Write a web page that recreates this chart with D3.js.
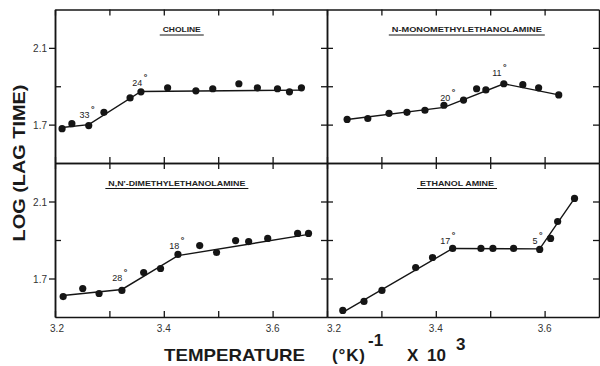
<!DOCTYPE html>
<html><head><meta charset="utf-8">
<script src="https://cdn.jsdelivr.net/npm/d3@7"></script>
<style>
html,body{margin:0;padding:0;background:#fff;}
svg{display:block;}
</style></head>
<body>
<svg id="chart" width="600" height="366"></svg>
<script>
// ---------- data ----------
const xTicks = [3.2, 3.3, 3.4, 3.5, 3.6];
const xTickLabels = [3.2, 3.4, 3.6];
const yTicks = [1.7, 1.9, 2.1];
const yTickLabels = [2.1, 1.7];

const panelTitles = ["CHOLINE", "N-MONOMETHYLETHANOLAMINE", "N,N'-DIMETHYLETHANOLAMINE", "ETHANOL AMINE"];

const cholineX = [3.213, 3.231, 3.262, 3.290, 3.338, 3.358, 3.407, 3.459, 3.490, 3.538, 3.572, 3.609, 3.631, 3.653];
const cholineY = [1.679, 1.705, 1.695, 1.764, 1.839, 1.871, 1.892, 1.876, 1.887, 1.913, 1.892, 1.887, 1.871, 1.892];
const cholineFitX = [3.213, 3.262, 3.358, 3.655];
const cholineFitY = [1.685, 1.700, 1.873, 1.880];
const cholineLabels = ["33", "24"];
const cholineLabelX = [3.259, 3.356];
const cholineLabelY = [1.752, 1.920];

const monoX = [3.237, 3.275, 3.314, 3.347, 3.380, 3.415, 3.451, 3.475, 3.492, 3.525, 3.560, 3.589, 3.626];
const monoY = [1.727, 1.732, 1.759, 1.764, 1.775, 1.801, 1.828, 1.887, 1.881, 1.913, 1.908, 1.892, 1.855];
const monoFitX = [3.237, 3.415, 3.525, 3.626];
const monoFitY = [1.727, 1.790, 1.913, 1.855];
const monoLabels = ["20", "11"];
const monoLabelX = [3.422, 3.517];
const monoLabelY = [1.839, 1.972];

const dimX = [3.215, 3.251, 3.281, 3.323, 3.363, 3.394, 3.426, 3.466, 3.497, 3.532, 3.556, 3.591, 3.646, 3.666];
const dimY = [1.606, 1.648, 1.622, 1.638, 1.731, 1.752, 1.825, 1.871, 1.835, 1.897, 1.892, 1.908, 1.934, 1.934];
const dimFitX = [3.215, 3.323, 3.426, 3.666];
const dimFitY = [1.612, 1.643, 1.819, 1.929];
const dimLabels = ["28", "18"];
const dimLabelX = [3.319, 3.424];
const dimLabelY = [1.705, 1.871];

const ethX = [3.229, 3.268, 3.301, 3.363, 3.394, 3.431, 3.483, 3.505, 3.543, 3.591, 3.611, 3.624, 3.655];
const ethY = [1.534, 1.581, 1.638, 1.757, 1.809, 1.856, 1.856, 1.856, 1.856, 1.851, 1.908, 1.996, 2.116];
const ethFitX = [3.232, 3.431, 3.591, 3.655];
const ethFitY = [1.529, 1.856, 1.854, 2.116];
const ethLabels = ["17", "5"];
const ethLabelX = [3.422, 3.587];
const ethLabelY = [1.898, 1.898];

// ---------- layout ----------
const cols = [[55, 327], [327, 599]];
const rows = [[9.5, 163], [163, 317]];
const INK = "#151515";

const panels = [
  {col:0,row:0,title:panelTitles[0],tw:38, tx:3.433, x:cholineX,y:cholineY,fx:cholineFitX,fy:cholineFitY,lt:cholineLabels,lx:cholineLabelX,ly:cholineLabelY},
  {col:1,row:0,title:panelTitles[1],tw:150,tx:3.457, x:monoX,y:monoY,fx:monoFitX,fy:monoFitY,lt:monoLabels,lx:monoLabelX,ly:monoLabelY},
  {col:0,row:1,title:panelTitles[2],tw:137,tx:3.424, x:dimX,y:dimY,fx:dimFitX,fy:dimFitY,lt:dimLabels,lx:dimLabelX,ly:dimLabelY},
  {col:1,row:1,title:panelTitles[3],tw:74, tx:3.439, x:ethX,y:ethY,fx:ethFitX,fy:ethFitY,lt:ethLabels,lx:ethLabelX,ly:ethLabelY}
];

const svg = d3.select("#chart");
svg.append("rect").attr("width",600).attr("height",366).attr("fill","#fff");

panels.forEach(p => {
  const [x0,x1] = cols[p.col];
  const [y0,y1] = rows[p.row];
  const xs = d3.scaleLinear().domain([3.2,3.7]).range([x0,x1]);
  const ys = d3.scaleLinear().domain([1.5,2.3]).range([y1,y0]);
  const g = svg.append("g");

  const styleAxis = sel => {
    sel.select(".domain").attr("stroke",INK).attr("stroke-width",1.5);
    sel.selectAll(".tick line").attr("stroke",INK).attr("stroke-width",1.3);
    sel.selectAll(".tick text").remove();
  };
  g.append("g").attr("transform",`translate(0,${y1})`)
    .call(d3.axisBottom(xs).tickValues(xTicks).tickSizeInner(-6).tickSizeOuter(0)).call(styleAxis);
  g.append("g").attr("transform",`translate(0,${y0})`)
    .call(d3.axisTop(xs).tickValues(xTicks).tickSizeInner(-6).tickSizeOuter(0)).call(styleAxis);
  g.append("g").attr("transform",`translate(${x1},0)`)
    .call(d3.axisRight(ys).tickValues(yTicks).tickSizeInner(-6).tickSizeOuter(0)).call(styleAxis);
  if (p.col === 0) {
    g.append("g").attr("transform",`translate(${x0},0)`)
      .call(d3.axisLeft(ys).tickValues(yTickLabels).tickSizeInner(6).tickSizeOuter(0)).call(sel=>{
        sel.select(".domain").attr("stroke",INK).attr("stroke-width",1.5);
        sel.selectAll(".tick line").attr("stroke",INK).attr("stroke-width",1.3);
        sel.selectAll(".tick text").attr("font-family","Liberation Sans, Arial, sans-serif")
          .attr("font-size",10).attr("fill","#333").attr("x",-8).attr("dy","0.35em").text(d=>d.toFixed(1));
      });
    g.append("g").attr("transform",`translate(${x0},0)`)
      .call(d3.axisLeft(ys).tickValues([1.9]).tickSizeInner(-6).tickSizeOuter(0)).call(styleAxis);
  } else {
    g.append("g").attr("transform",`translate(${x0},0)`)
      .call(d3.axisLeft(ys).tickValues(yTicks).tickSizeInner(-6).tickSizeOuter(0)).call(styleAxis);
  }

  if (p.row === 1) {
    g.selectAll("text.xl").data(xTickLabels).join("text").attr("class","xl")
      .attr("x",d => xs(d) + (d===3.2 ? (p.col===0?2:7) : 0))
      .attr("y",y1+15)
      .attr("text-anchor","middle")
      .attr("font-family","Liberation Sans, Arial, sans-serif")
      .attr("font-size",10).attr("fill","#333")
      .text(d => d.toFixed(1));
  }

  const tcx = xs(p.tx);
  g.append("text").attr("x",tcx).attr("y",y0+22.5)
    .attr("text-anchor","middle")
    .attr("font-family","Liberation Sans, Arial, sans-serif")
    .attr("font-weight","bold").attr("font-size",8).attr("fill","#222")
    .attr("textLength",p.tw).attr("lengthAdjust","spacingAndGlyphs")
    .text(p.title);
  g.append("line").attr("x1",tcx-p.tw/2-3).attr("x2",tcx+p.tw/2+3)
    .attr("y1",y0+25.5).attr("y2",y0+25.5).attr("stroke",INK).attr("stroke-width",1.2);

  const fit = p.fx.map((v,i)=>[v,p.fy[i]]);
  g.append("path").datum(fit)
    .attr("d",d3.line().x(d=>xs(d[0])).y(d=>ys(d[1])))
    .attr("fill","none").attr("stroke",INK).attr("stroke-width",1.4);

  const pts = p.x.map((v,i)=>[v,p.y[i]]);
  g.selectAll("circle.pt").data(pts).join("circle").attr("class","pt")
    .attr("cx",d=>xs(d[0])).attr("cy",d=>ys(d[1])).attr("r",3.6).attr("fill",INK);

  const labs = p.lt.map((t,i)=>({t, x:p.lx[i], y:p.ly[i]}));
  const lt = g.selectAll("text.bl").data(labs).join("text").attr("class","bl")
    .attr("x",d=>xs(d.x)).attr("y",d=>ys(d.y)+3.5)
    .attr("text-anchor","middle")
    .attr("font-family","Liberation Sans, Arial, sans-serif")
    .attr("font-size",9).attr("fill","#222");
  lt.append("tspan").text(d=>d.t);
  lt.append("tspan").attr("dx",1.5).attr("dy",-6).attr("font-size",9).attr("font-weight","bold").text("°");
});

// axis titles
svg.append("text")
  .attr("transform","translate(25,163) rotate(-90)")
  .attr("text-anchor","middle")
  .attr("font-family","Liberation Sans, Arial, sans-serif")
  .attr("font-weight","bold").attr("font-size",17).attr("fill","#1a1a1a")
  .attr("textLength",157).attr("lengthAdjust","spacingAndGlyphs")
  .text("LOG (LAG TIME)");

const xt = svg.append("g").attr("font-family","Liberation Sans, Arial, sans-serif")
  .attr("font-weight","bold").attr("fill","#1a1a1a");
xt.append("text").attr("x",164).attr("y",361).attr("font-size",17)
  .attr("textLength",141).attr("lengthAdjust","spacingAndGlyphs").text("TEMPERATURE");
xt.append("text").attr("x",332).attr("y",361).attr("font-size",17)
  .attr("textLength",33).attr("lengthAdjust","spacing").text("(°K)");
xt.append("text").attr("x",368).attr("y",346).attr("font-size",17).text("-1");
xt.append("text").attr("x",407).attr("y",361).attr("font-size",17).text("X");
xt.append("text").attr("x",427).attr("y",361).attr("font-size",17).text("10");
xt.append("text").attr("x",456).attr("y",350).attr("font-size",17).text("3");
</script>
</body></html>
